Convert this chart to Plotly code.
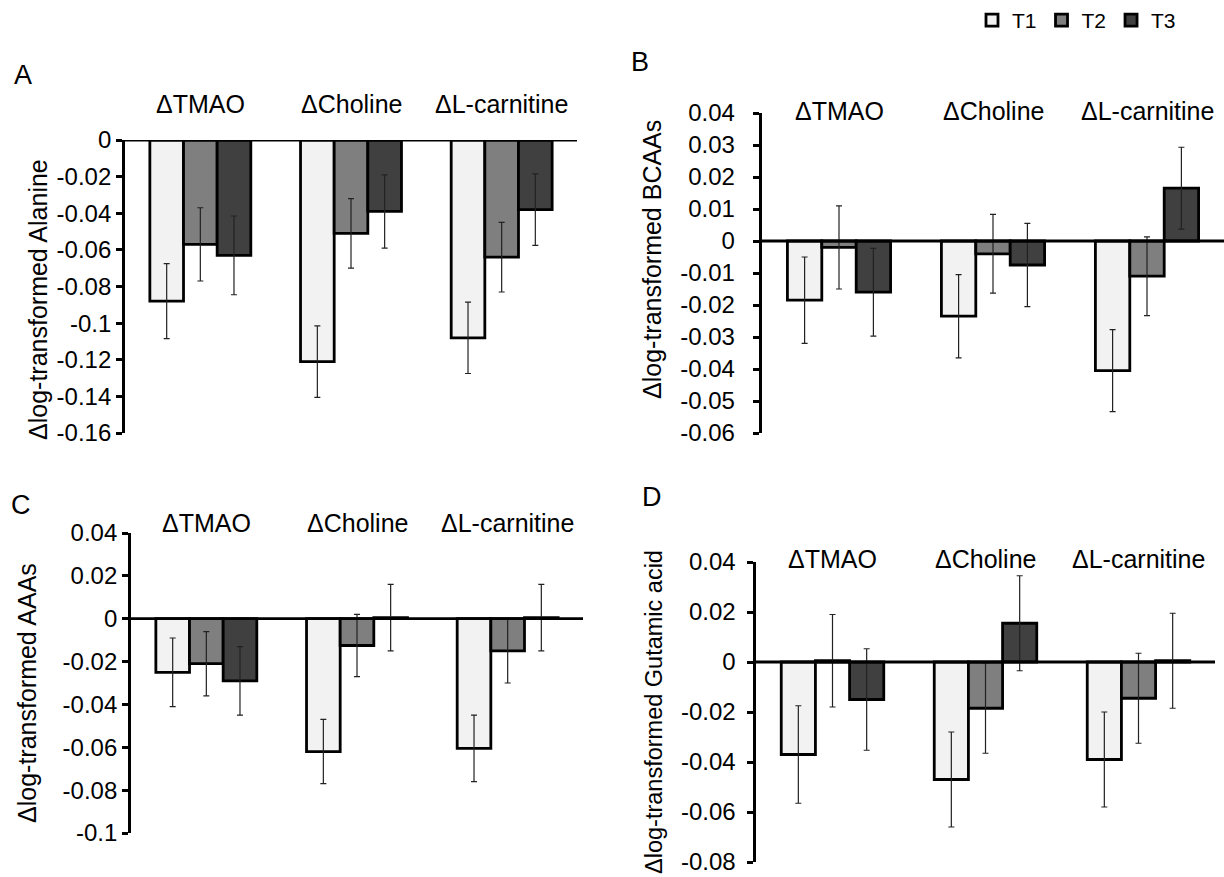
import plotly.graph_objects as go

# ---------------- data ----------------
categories = ["ΔTMAO", "ΔCholine", "ΔL-carnitine"]
series = ["T1", "T2", "T3"]

# Panel A: Alanine
alanine_T1 = [-0.088, -0.121, -0.108]
alanine_T2 = [-0.057, -0.051, -0.064]
alanine_T3 = [-0.063, -0.039, -0.038]
alanine_T1_err = [0.0205, 0.0195, 0.0195]
alanine_T2_err = [0.020, 0.019, 0.019]
alanine_T3_err = [0.0215, 0.020, 0.0195]

# Panel B: BCAAs
bcaa_T1 = [-0.0185, -0.0235, -0.0405]
bcaa_T2 = [-0.002, -0.004, -0.011]
bcaa_T3 = [-0.016, -0.0075, 0.0165]
bcaa_T1_err = [0.0135, 0.013, 0.0128]
bcaa_T2_err = [0.013, 0.0123, 0.0123]
bcaa_T3_err = [0.0137, 0.013, 0.0128]

# Panel C: AAAs
aaa_T1 = [-0.025, -0.062, -0.0605]
aaa_T2 = [-0.021, -0.0125, -0.015]
aaa_T3 = [-0.029, 0.0005, 0.0005]
aaa_T1_err = [0.016, 0.015, 0.0155]
aaa_T2_err = [0.015, 0.0145, 0.015]
aaa_T3_err = [0.016, 0.0155, 0.0155]

# Panel D: Glutamic acid
glu_T1 = [-0.037, -0.047, -0.039]
glu_T2 = [0.0005, -0.0185, -0.0145]
glu_T3 = [-0.015, 0.0155, 0.0005]
glu_T1_err = [0.0195, 0.019, 0.019]
glu_T2_err = [0.0185, 0.018, 0.018]
glu_T3_err = [0.0203, 0.019, 0.019]

# tick labels
ticks_A = [0, -0.02, -0.04, -0.06, -0.08, -0.1, -0.12, -0.14, -0.16]
ticktext_A = ["0", "-0.02", "-0.04", "-0.06", "-0.08", "-0.1", "-0.12", "-0.14", "-0.16"]
ticks_B = [0.04, 0.03, 0.02, 0.01, 0, -0.01, -0.02, -0.03, -0.04, -0.05, -0.06]
ticktext_B = ["0.04", "0.03", "0.02", "0.01", "0", "-0.01", "-0.02", "-0.03", "-0.04", "-0.05", "-0.06"]
ticks_C = [0.04, 0.02, 0, -0.02, -0.04, -0.06, -0.08, -0.1]
ticktext_C = ["0.04", "0.02", "0", "-0.02", "-0.04", "-0.06", "-0.08", "-0.1"]
ticks_D = [0.04, 0.02, 0, -0.02, -0.04, -0.06, -0.08]
ticktext_D = ["0.04", "0.02", "0", "-0.02", "-0.04", "-0.06", "-0.08"]

y_titles = ["Δlog-transformed Alanine", "Δlog-transformed BCAAs",
            "Δlog-transformed AAAs", "Δlog-transformed Gutamic acid"]
panel_letters = ["A", "B", "C", "D"]

# ---------------- styling ----------------
W, H = 1224, 877
FONT = "Liberation Sans, Arial, sans-serif"
colors = ["#f2f2f2", "#7f7f7f", "#404040"]
PAD = "\u00a0"

def px_x(p):
    return p / W

def px_y(p):
    return 1 - p / H

panels = [
    dict(vals=[alanine_T1, alanine_T2, alanine_T3],
         errs=[alanine_T1_err, alanine_T2_err, alanine_T3_err],
         ticks=ticks_A, ticktext=ticktext_A, rng=[-0.16, 0],
         xdom=[px_x(125), px_x(577)], ydom=[px_y(433), px_y(140)],
         cat_y=104, title_pos=(38, 300), title_size=25,
         letter_pos=(23, 75), pad=0),
    dict(vals=[bcaa_T1, bcaa_T2, bcaa_T3],
         errs=[bcaa_T1_err, bcaa_T2_err, bcaa_T3_err],
         ticks=ticks_B, ticktext=ticktext_B, rng=[-0.06, 0.04],
         xdom=[px_x(762), 1.0], ydom=[px_y(433), px_y(113)],
         cat_y=111, title_pos=(652, 260), title_size=25,
         letter_pos=(640, 62), pad=2),
    dict(vals=[aaa_T1, aaa_T2, aaa_T3],
         errs=[aaa_T1_err, aaa_T2_err, aaa_T3_err],
         ticks=ticks_C, ticktext=ticktext_C, rng=[-0.1, 0.04],
         xdom=[px_x(131), px_x(583)], ydom=[px_y(833), px_y(533)],
         cat_y=523, title_pos=(27, 693), title_size=25,
         letter_pos=(21, 505), pad=0),
    dict(vals=[glu_T1, glu_T2, glu_T3],
         errs=[glu_T1_err, glu_T2_err, glu_T3_err],
         ticks=ticks_D, ticktext=ticktext_D, rng=[-0.08, 0.04],
         xdom=[px_x(756), px_x(1215)], ydom=[px_y(862), px_y(562)],
         cat_y=559, title_pos=(654, 712), title_size=23.5,
         letter_pos=(652, 497), pad=1),
]

fig = go.Figure()
annotations = []
shapes = []

for i, p in enumerate(panels):
    sfx = "" if i == 0 else str(i + 1)
    xa, ya = "x" + sfx, "y" + sfx
    for k in range(3):
        fig.add_trace(go.Bar(
            x=categories, y=p["vals"][k], name=series[k],
            xaxis=xa, yaxis=ya,
            marker=dict(color=colors[k], line=dict(color="black", width=2.8)),
            error_y=dict(type="data", array=p["errs"][k], visible=True,
                         color="#222222", thickness=1.2, width=3),
            showlegend=(i == 1), legendgroup=series[k],
        ))
    fig.layout["xaxis" + sfx] = dict(
        domain=p["xdom"], anchor=ya, showticklabels=False, showline=False,
        showgrid=False, zeroline=False, ticks="",
        categoryorder="array", categoryarray=categories)
    fig.layout["yaxis" + sfx] = dict(
        domain=p["ydom"], anchor=xa, range=p["rng"],
        tickmode="array", tickvals=p["ticks"],
        ticktext=[t + PAD * p["pad"] for t in p["ticktext"]],
        showline=True, linecolor="black", linewidth=2.8,
        ticks="outside", ticklen=6, tickwidth=2.8, tickcolor="black",
        showgrid=False, zeroline=False, automargin=False,
        tickfont=dict(family=FONT, size=24, color="black"))
    # zero line
    shapes.append(dict(type="line", xref=xa + " domain", yref=ya,
                       x0=0, x1=1, y0=0, y1=0,
                       line=dict(color="black", width=2.8)))
    # category labels
    for c in categories:
        annotations.append(dict(x=c, xref=xa, y=px_y(p["cat_y"]), yref="paper",
                                text=c, showarrow=False, yanchor="middle",
                                font=dict(family=FONT, size=25, color="black")))
    # y title
    tx, ty = p["title_pos"]
    annotations.append(dict(x=px_x(tx), y=px_y(ty), xref="paper", yref="paper",
                            text=y_titles[i], textangle=-90, showarrow=False,
                            xanchor="center", yanchor="middle",
                            font=dict(family=FONT, size=p["title_size"], color="black")))
    lx, ly = p["letter_pos"]
    annotations.append(dict(x=px_x(lx), y=px_y(ly), xref="paper", yref="paper",
                            text=panel_letters[i], showarrow=False,
                            xanchor="center", yanchor="middle",
                            font=dict(family=FONT, size=27, color="black")))

fig.update_layout(
    width=W, height=H, margin=dict(l=0, r=0, t=0, b=0),
    paper_bgcolor="white", plot_bgcolor="rgba(0,0,0,0)",
    barmode="group", bargap=0.33, bargroupgap=0,
    annotations=annotations, shapes=shapes,
    legend=dict(orientation="h", x=px_x(972), y=1.0, xanchor="left", yanchor="top",
                font=dict(family=FONT, size=21, color="black"),
                itemwidth=30, tracegroupgap=0, bgcolor="rgba(0,0,0,0)"),
    font=dict(family=FONT, color="black"),
)

fig.write_html("out.html")
